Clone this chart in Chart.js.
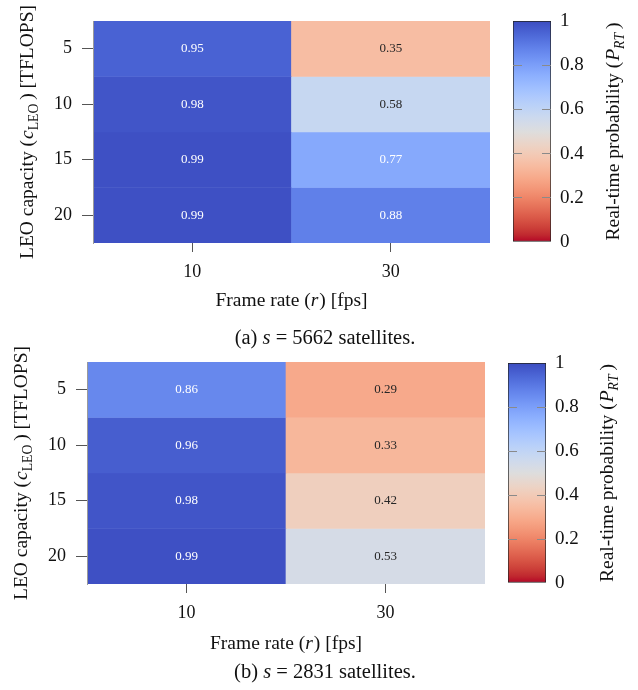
<!DOCTYPE html>
<html lang="en">
<head>
    <meta charset="UTF-8">
    <title>Real-time probability heatmaps</title>
    <script src="https://cdn.jsdelivr.net/npm/chart.js"></script>
    <style>
        html, body {
            margin: 0;
            padding: 0;
            background: #ffffff;
        }
        #figure {
            position: relative;
            width: 638px;
            height: 690px;
            overflow: hidden;
        }
        canvas {
            position: absolute;
        }
        .caption {
            position: absolute;
            left: 0;
            width: 650px;
            text-align: center;
            font: 20.5px 'Liberation Serif', 'DejaVu Serif', serif;
            line-height: 22px;
            color: #111;
        }
    </style>
</head>
<body>
<div id="figure">
    <canvas id="heatA" width="500" height="350" style="left:0;top:0"></canvas>
    <canvas id="barA" width="138" height="350" style="left:500px;top:0"></canvas>
    <div class="caption" style="top:326px">(a) <i>s</i> = 5662 satellites.</div>

    <canvas id="heatB" width="500" height="350" style="left:0;top:340px"></canvas>
    <canvas id="barB" width="143" height="350" style="left:495px;top:340px"></canvas>
    <div class="caption" style="top:660px">(b) <i>s</i> = 2831 satellites.</div>
</div>
<script>
    // axes
    const frameRates = ['10', '30'];
    const capacities = ['5', '10', '15', '20'];
    const cbTicks = [0, 0.2, 0.4, 0.6, 0.8, 1];

    // (a) s = 5662 satellites, one array per frame rate, rows follow capacities
    const probA_r10 = [0.95, 0.98, 0.99, 0.99];
    const probA_r30 = [0.35, 0.58, 0.77, 0.88];

    // (b) s = 2831 satellites
    const probB_r10 = [0.86, 0.96, 0.98, 0.99];
    const probB_r30 = [0.29, 0.33, 0.42, 0.53];

    const serif = "'Liberation Serif', 'DejaVu Serif', serif";
    const titleSize = 19.5;

    // coolwarm colour stops (blue -> grey -> red), 33 samples
    const coolwarm = [
        [59, 76, 192], [68, 90, 204], [77, 104, 215], [87, 117, 225], [98, 130, 234],
        [108, 142, 241], [119, 154, 247], [130, 165, 251], [141, 176, 254], [152, 185, 255],
        [163, 194, 255], [174, 201, 253], [184, 208, 249], [194, 213, 244], [204, 217, 238],
        [213, 219, 230], [221, 221, 221], [229, 216, 209], [236, 211, 197], [241, 204, 185],
        [245, 196, 173], [247, 187, 160], [247, 177, 148], [247, 166, 135], [244, 154, 123],
        [241, 141, 111], [236, 127, 99], [229, 112, 88], [222, 96, 77], [213, 80, 66],
        [203, 62, 56], [192, 40, 47], [180, 4, 38]
    ];

    // probability 1 is blue, 0 is red
    function probRgb(p) {
        const t = (1 - Math.min(1, Math.max(0, p))) * (coolwarm.length - 1);
        const i = Math.min(Math.floor(t), coolwarm.length - 2);
        const f = t - i;
        return coolwarm[i].map((c, k) => Math.round(c + (coolwarm[i + 1][k] - c) * f));
    }
    function probColor(p) {
        const c = probRgb(p);
        return `rgb(${c[0]}, ${c[1]}, ${c[2]})`;
    }
    function textColorFor(p) {
        const lum = probRgb(p).map(c => {
            c /= 255;
            return c <= 0.03928 ? c / 12.92 : Math.pow((c + 0.055) / 1.055, 2.4);
        });
        const l = 0.2126 * lum[0] + 0.7152 * lum[1] + 0.0722 * lum[2];
        return l > 0.408 ? '#262626' : '#ffffff';
    }

    // text with italic / subscript pieces, centred on (x, y)
    function drawRich(ctx, parts, x, y, size, vertical) {
        const fontOf = p => `${p.it ? 'italic ' : ''}${p.sub ? size * 0.7 : size}px ${serif}`;
        ctx.save();
        ctx.translate(x, y);
        if (vertical) ctx.rotate(-Math.PI / 2);
        let w = 0;
        parts.forEach(p => { ctx.font = fontOf(p); w += ctx.measureText(p.t).width + (p.gap || 0); });
        let cx = -w / 2;
        ctx.fillStyle = '#111';
        ctx.textBaseline = 'alphabetic';
        const base = size * 0.33;
        parts.forEach(p => {
            ctx.font = fontOf(p);
            ctx.fillText(p.t, cx, base + (p.sub ? size * 0.22 : 0));
            cx += ctx.measureText(p.t).width + (p.gap || 0);
        });
        ctx.restore();
    }

    const xTitle = [{ t: 'Frame rate (' }, { t: 'r', it: true, gap: 1 }, { t: ') [fps]' }];
    const yTitle = [{ t: 'LEO capacity (', gap: 1 }, { t: 'c', it: true }, { t: 'LEO', sub: true, gap: 4 }, { t: ') [TFLOPS]' }];
    const cbTitle = [{ t: 'Real-time probability (', gap: 1 }, { t: 'P', it: true }, { t: 'RT', it: true, sub: true, gap: 4 }, { t: ')' }];

    const cellLabels = {
        id: 'cellLabels',
        afterDatasetsDraw(chart) {
            const ctx = chart.ctx;
            ctx.save();
            ctx.font = `13px ${serif}`;
            ctx.textAlign = 'center';
            ctx.textBaseline = 'middle';
            chart.data.datasets.forEach((ds, di) => {
                chart.getDatasetMeta(di).data.forEach((bar, j) => {
                    const p = ds.probs[j];
                    ctx.fillStyle = textColorFor(p);
                    ctx.fillText(p.toFixed(2), bar.x, (bar.y + bar.base) / 2);
                });
            });
            ctx.restore();
        }
    };

    function makeHeatmap(id, columns, geo) {
        return new Chart(document.getElementById(id), {
            type: 'bar',
            data: {
                labels: frameRates,
                // one dataset per capacity row, one floating bar per frame rate
                datasets: capacities.map((cap, i) => ({
                    label: cap,
                    data: frameRates.map(() => [i, i + 1]),
                    probs: columns.map(col => col[i]),
                    backgroundColor: columns.map(col => probColor(col[i])),
                    borderWidth: 0,
                    barPercentage: 1,
                    categoryPercentage: 1,
                    grouped: false
                }))
            },
            options: {
                responsive: false,
                animation: false,
                layout: { padding: { top: geo.top, right: geo.right, left: 0, bottom: 0 } },
                plugins: {
                    legend: { display: false },
                    tooltip: { enabled: false }
                },
                scales: {
                    x: {
                        type: 'category',
                        afterFit(scale) { scale.height = geo.xHeight; },
                        grid: { offset: false, drawOnChartArea: false, tickLength: 9, color: '#555' },
                        border: { display: false },
                        ticks: { color: '#111', padding: 9, font: { family: serif, size: 18 } }
                    },
                    y: {
                        type: 'linear',
                        min: 0,
                        max: capacities.length,
                        reverse: true,
                        afterFit(scale) { scale.width = geo.yWidth; },
                        afterBuildTicks(scale) {
                            scale.ticks = capacities.map((c, i) => ({ value: i + 0.5 }));
                        },
                        grid: { drawOnChartArea: false, tickLength: 11, color: '#555' },
                        border: { display: true, color: '#9a9a9a', z: 1 },
                        ticks: {
                            autoSkip: false,
                            color: '#111',
                            padding: 10,
                            font: { family: serif, size: 18 },
                            callback: value => capacities[Math.floor(value)]
                        }
                    }
                }
            },
            plugins: [cellLabels, {
                id: 'axisTitles',
                afterDraw(chart) {
                    const a = chart.chartArea;
                    drawRich(chart.ctx, xTitle, (a.left + a.right) / 2, a.bottom + geo.xTitleGap, titleSize, false);
                    drawRich(chart.ctx, yTitle, a.left - geo.yTitleGap, (a.top + a.bottom) / 2, titleSize, true);
                }
            }]
        });
    }

    function makeColorbar(id, geo) {
        return new Chart(document.getElementById(id), {
            type: 'bar',
            data: {
                labels: [''],
                datasets: [{
                    data: [[0, 1]],
                    backgroundColor(ctx) {
                        const chart = ctx.chart;
                        if (!chart.chartArea) return null;
                        const y = chart.scales.y;
                        const g = chart.ctx.createLinearGradient(0, y.getPixelForValue(0), 0, y.getPixelForValue(1));
                        const n = coolwarm.length - 1;
                        for (let k = 0; k <= n; k++) g.addColorStop(k / n, probColor(k / n));
                        return g;
                    },
                    borderColor: '#222',
                    borderWidth: 1,
                    borderSkipped: false,
                    barPercentage: 1,
                    categoryPercentage: 1
                }]
            },
            options: {
                responsive: false,
                animation: false,
                layout: { padding: { top: geo.top, left: geo.left, bottom: geo.bottom, right: 0 } },
                plugins: {
                    legend: { display: false },
                    tooltip: { enabled: false }
                },
                scales: {
                    x: { display: false },
                    y: {
                        position: 'right',
                        min: 0,
                        max: 1,
                        afterFit(scale) { scale.width = geo.yWidth; },
                        afterBuildTicks(scale) {
                            scale.ticks = cbTicks.map(v => ({ value: v }));
                        },
                        grid: {
                            z: 1,
                            drawTicks: false,
                            lineWidth: 1,
                            color: ctx => (ctx.tick && ctx.tick.value > 0 && ctx.tick.value < 1) ? '#8a8a8a' : 'rgba(0,0,0,0)'
                        },
                        // in-bar tick marks on both edges
                        border: { display: false, dash: [9, 20] },
                        ticks: {
                            color: '#111',
                            padding: 9,
                            font: { family: serif, size: 19 },
                            callback: v => String(v)
                        }
                    }
                }
            },
            plugins: [{
                id: 'barTitle',
                afterDraw(chart) {
                    const a = chart.chartArea;
                    drawRich(chart.ctx, cbTitle, geo.titleX, (a.top + a.bottom) / 2, titleSize, true);
                }
            }]
        });
    }

    makeHeatmap('heatA', [probA_r10, probA_r30],
        { top: 21, right: 10, yWidth: 93, xHeight: 107, xTitleGap: 57, yTitleGap: 66 });
    makeColorbar('barA', { top: 21, left: 13, bottom: 108, yWidth: 87, titleX: 113 });

    makeHeatmap('heatB', [probB_r10, probB_r30],
        { top: 22, right: 15, yWidth: 87, xHeight: 106, xTitleGap: 59, yTitleGap: 66 });
    makeColorbar('barB', { top: 23, left: 13, bottom: 107, yWidth: 92, titleX: 112 });
</script>
</body>
</html>
